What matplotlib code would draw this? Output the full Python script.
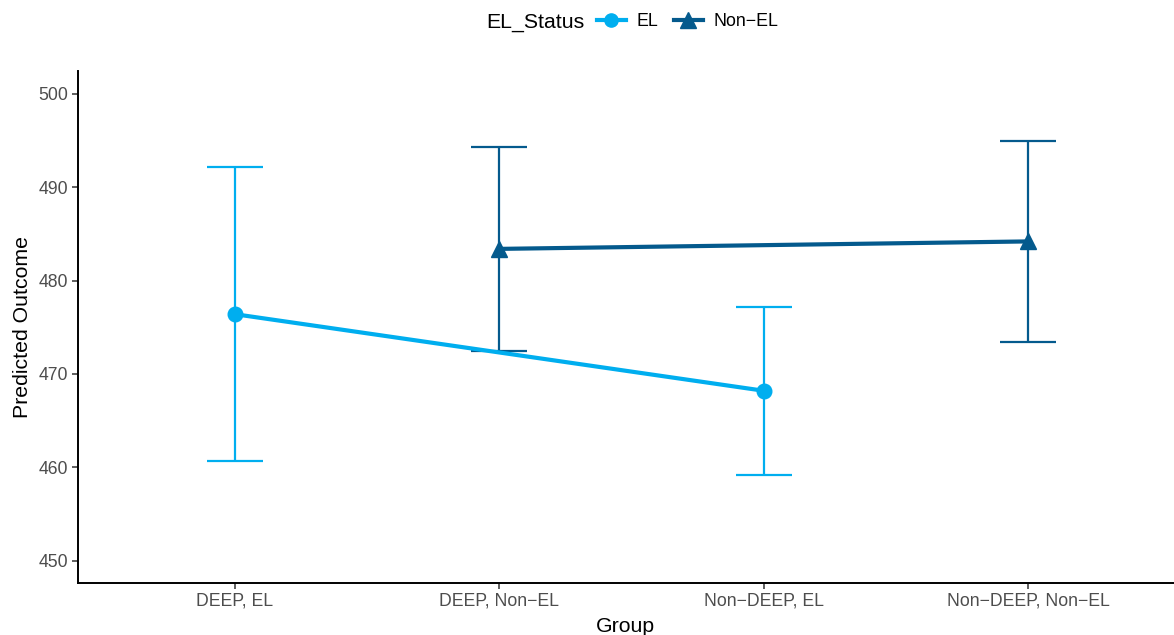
import matplotlib
matplotlib.use("Agg")
import matplotlib.pyplot as plt
from matplotlib.lines import Line2D

plt.rcParams['font.family'] = ['Liberation Sans', 'DejaVu Sans']

groups = ["DEEP, EL", "DEEP, Non\u2212EL", "Non\u2212DEEP, EL", "Non\u2212DEEP, Non\u2212EL"]
el_x = [1, 3]
el_mean = [476.4, 468.2]
el_low = [460.7, 459.2]
el_high = [492.2, 477.2]
nonel_x = [2, 4]
nonel_mean = [483.4, 484.2]
nonel_low = [472.5, 473.4]
nonel_high = [494.3, 495.0]
yticks = [450, 460, 470, 480, 490, 500]

c_el = "#00AEEF"
c_non = "#045A8D"

fig = plt.figure(figsize=(11.74, 6.35), dpi=100)
ax = fig.add_axes([77.5/1174, 52/635, (1174-77.5)/1174, 512/635])

for xs, m, lo, hi, c, mk, ms in [(el_x, el_mean, el_low, el_high, c_el, 'o', 10.5),
                                  (nonel_x, nonel_mean, nonel_low, nonel_high, c_non, '^', 12)]:
    yerr = [[mm - l for mm, l in zip(m, lo)], [h - mm for mm, h in zip(m, hi)]]
    ax.errorbar(xs, m, yerr=yerr, fmt='none', ecolor=c, elinewidth=1.6, capsize=20, capthick=1.6, zorder=2)
    ax.plot(xs, m, color=c, lw=3, zorder=3)
    ax.plot(xs, m, ls='none', marker=mk, ms=ms, color=c, zorder=4)

ax.set_xlim(0.404, 4.552)
ax.set_ylim(447.6, 502.46)
ax.set_xticks([1, 2, 3, 4])
ax.set_xticklabels(groups)
ax.set_yticks(yticks)
ax.tick_params(axis='both', labelsize=12.7, colors='#4D4D4D', length=4, width=1.1, pad=3)
ax.tick_params(axis='both', color='#333333')
for s in ['top', 'right']:
    ax.spines[s].set_visible(False)
for s in ['left', 'bottom']:
    ax.spines[s].set_linewidth(1.4)
    ax.spines[s].set_color('black')
ax.set_xlabel("Group", fontsize=15.3, labelpad=5)
ax.set_ylabel("Predicted Outcome", fontsize=15.3, labelpad=4)

fig.text(584/1174, 1 - 22/635, "EL_Status", fontsize=15.3, ha='right', va='center')
handles = [Line2D([], [], color=c_el, lw=3, marker='o', ms=9.5),
           Line2D([], [], color=c_non, lw=3, marker='^', ms=11)]
fig.legend(handles, ["EL", "Non\u2212EL"], ncol=2, frameon=False, fontsize=12.8,
           loc='center left', bbox_to_anchor=(597/1174, 1 - 22/635),
           handlelength=1.63, handletextpad=0.62, columnspacing=0.85, borderpad=0, borderaxespad=0)

fig.savefig("out.png", dpi=100)
